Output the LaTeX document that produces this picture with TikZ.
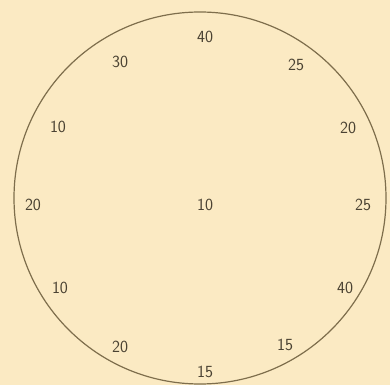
\documentclass[tikz,border=0pt]{standalone}
\definecolor{paper}{HTML}{FBEAC3}
\definecolor{rim}{HTML}{7E6E4C}
\definecolor{ink}{HTML}{4A4232}
\tikzset{rimnum/.style={ink,font=\sffamily\fontsize{17}{17}\selectfont}}
\begin{document}
\begin{tikzpicture}[x=1pt,y=1pt]
  \fill[paper] (-200,-187) rectangle (190,198);
  \useasboundingbox (-200,-187) rectangle (190,198);
  % outer rim
  \draw[rim,line width=1.2pt] (0,0) circle (186);
  \node[rimnum] (mid) at (5,-7) {10};
  % numbers round the rim
  \foreach \px/\py/\num [count=\i] in {5/161/40, 96/133/25, 148/70/20, 163/-7/25,
      145/-90/40, 85/-147/15, 5/-174/15, -80/-149/20, -140/-90/10,
      -167/-7/20, -142/71/10, -80/136/30}
    \node[rimnum] (n\i) at (\px,\py) {\num};
\end{tikzpicture}
\end{document}
